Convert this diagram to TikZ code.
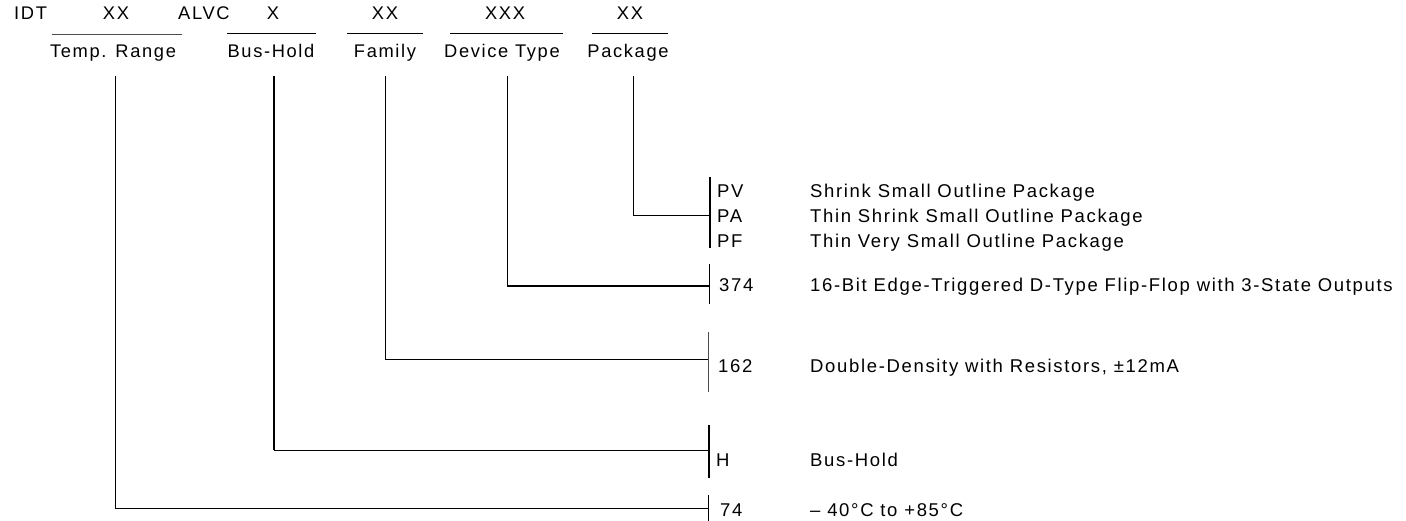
\documentclass[tikz,border=0pt]{standalone}
\usepackage{fontspec}
\setmainfont{Liberation Sans}
\newfontfamily\topf[LetterSpace=9]{Liberation Sans}
\newfontfamily\descf[LetterSpace=9]{Liberation Sans}
\begin{document}
\begin{tikzpicture}[x=1pt,y=-1pt,
  lab/.style={inner sep=0pt, font=\topf\fontsize{18.3}{21}\selectfont, anchor=base},
  code/.style={inner sep=0pt, font=\descf\fontsize{18.5}{22}\selectfont, anchor=base west},
  ln/.style={line width=1pt, line cap=butt},
  thk/.style={line width=1.8pt, line cap=butt}]
\useasboundingbox (0,0) rectangle (1406,521);
% top row
\node[lab,anchor=base west] (idt) at (14,20) {IDT};
\node[lab] (c1) at (116,20) {XX};
\node[lab,anchor=base west] (alvc) at (178,20) {ALVC};
\node[lab] (c2) at (273,20) {X};
\node[lab] (c3) at (385,20) {XX};
\node[lab] (c4) at (505,20) {XXX};
\node[lab] (c5) at (630,20) {XX};
% field names
\node[lab] (temp) at (113,58) {Temp. Range};
\node[lab] (bus) at (271,58) {Bus-Hold};
\node[lab] (fam) at (385,58) {Family};
\node[lab] (dev) at (502,58) {Device Type};
\node[lab] (pkg) at (628,58) {Package};
% underlines
\coordinate (u1a) at (52,35);  \coordinate (u1b) at (182,35);
\coordinate (u2a) at (227,34); \coordinate (u2b) at (316,34);
\coordinate (u3a) at (347,34); \coordinate (u3b) at (423,34);
\coordinate (u4a) at (450,34); \coordinate (u4b) at (563,34);
\coordinate (u5a) at (592,34); \coordinate (u5b) at (668,34);
\draw[ln,black!70] (u1a) -- (u1b);
\draw[ln] (u2a) -- (u2b);
\draw[ln] (u3a) -- (u3b);
\draw[ln] (u4a) -- (u4b);
\draw[ln] (u5a) -- (u5b);
% codes
\node[code] (pv) at (717,198) {PV};
\node[code] (pa) at (717,223) {PA};
\node[code] (pf) at (717,248) {PF};
\node[code] (k374) at (719,292) {374};
\node[code] (k162) at (718,372) {162};
\node[code] (kh) at (716,466) {H};
\node[code] (k74) at (720,516) {74};
% descriptions
\node[code] (dpv) at (810,198) {Shrink Small Outline Package};
\node[code] (dpa) at (810,223) {Thin Shrink Small Outline Package};
\node[code] (dpf) at (810,248) {Thin Very Small Outline Package};
\node[code] (d374) at (810,292) {16-Bit Edge-Triggered D-Type Flip-Flop with 3-State Outputs};
\node[code] (d162) at (810,372) {Double-Density with Resistors, ±12mA};
\node[code] (dh) at (810,466) {Bus-Hold};
\node[code] (d74) at (810,516) {– 40°C to +85°C};
% brackets
\coordinate (bpkgT) at (710,177); \coordinate (bpkgB) at (710,248); \coordinate (bpkg) at (710,216);
\coordinate (bdevT) at (709,264); \coordinate (bdevB) at (709,304); \coordinate (bdev) at (709,286);
\coordinate (bfamT) at (708,332); \coordinate (bfamB) at (708,392); \coordinate (bfam) at (708,360);
\coordinate (bbusT) at (709,425); \coordinate (bbusB) at (709,478); \coordinate (bbus) at (709,450);
\coordinate (btmpT) at (708,495); \coordinate (btmpB) at (708,521); \coordinate (btmp) at (708,508);
\draw[thk] (bpkgT) -- (bpkgB);
\draw[ln] (bdevT) -- (bdevB);
\draw[ln,black!70] (bfamT) -- (bfamB);
\draw[thk] (bbusT) -- (bbusB);
\draw[ln] (btmpT) -- (btmpB);
% leader lines
\coordinate (lpkg) at (633,76);
\coordinate (ldev) at (507,76);
\coordinate (lfam) at (385,76);
\coordinate (lbus) at (274,76);
\coordinate (ltmp) at (115,76);
\draw[ln] (lpkg) |- (bpkg);
\draw[ln] (ldev) -- (ldev |- bdev);
\draw[thk] (ldev |- bdev) -- (bdev);
\draw[ln] (lfam) |- (bfam);
\draw[thk] (lbus) -- (lbus |- bbus);
\draw[ln] (lbus |- bbus) -- (bbus);
\draw[ln] (ltmp) |- (btmp);
\end{tikzpicture}
\end{document}
